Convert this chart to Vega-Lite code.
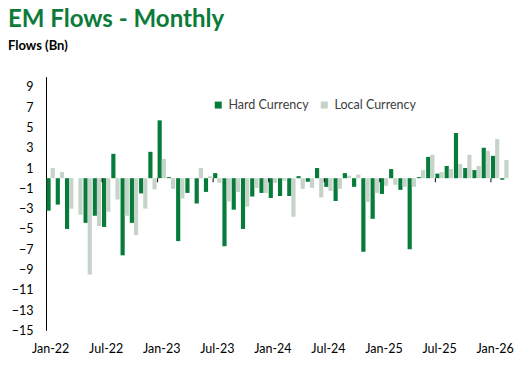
{
  "$schema": "https://vega.github.io/schema/vega-lite/v6.json",
  "width": 463,
  "height": 253.75,
  "autosize": {"type": "none"},
  "padding": {"left": 46, "top": 76.7, "right": 19, "bottom": 35.55},
  "background": "white",
  "title": {
    "text": "EM Flows - Monthly",
    "subtitle": "Flows (Bn)",
    "anchor": "start",
    "frame": "group",
    "dx": -38,
    "offset": 24,
    "font": "Lato",
    "fontSize": 24,
    "fontWeight": "bold",
    "color": "#0B7B3A",
    "subtitleFont": "Lato",
    "subtitleFontSize": 13,
    "subtitleFontWeight": "bold",
    "subtitleColor": "#000000",
    "subtitlePadding": 8
  },
  "config": {
    "view": {"stroke": null},
    "axis": {"grid": false, "labelFont": "Lato", "labelFontSize": 12.5, "labelColor": "#000000", "labelOverlap": false}
  },
  "data": {
    "values": [
      {"m": "Jan-22", "Hard Currency": -3.2, "Local Currency": 1.0},
      {"m": "Feb-22", "Hard Currency": -2.6, "Local Currency": 0.6},
      {"m": "Mar-22", "Hard Currency": -5.0, "Local Currency": -3.0},
      {"m": "Apr-22", "Hard Currency": 0.0, "Local Currency": -3.6},
      {"m": "May-22", "Hard Currency": -4.4, "Local Currency": -9.5},
      {"m": "Jun-22", "Hard Currency": -3.7, "Local Currency": -4.7},
      {"m": "Jul-22", "Hard Currency": -4.8, "Local Currency": -3.3},
      {"m": "Aug-22", "Hard Currency": 2.4, "Local Currency": -2.1},
      {"m": "Sep-22", "Hard Currency": -7.6, "Local Currency": -3.7},
      {"m": "Oct-22", "Hard Currency": -4.4, "Local Currency": -5.6},
      {"m": "Nov-22", "Hard Currency": -1.5, "Local Currency": -3.0},
      {"m": "Dec-22", "Hard Currency": 2.6, "Local Currency": -1.1},
      {"m": "Jan-23", "Hard Currency": 5.7, "Local Currency": 1.9},
      {"m": "Feb-23", "Hard Currency": 0.1, "Local Currency": -1.05},
      {"m": "Mar-23", "Hard Currency": -6.2, "Local Currency": -2.0},
      {"m": "Apr-23", "Hard Currency": -1.45, "Local Currency": -0.05},
      {"m": "May-23", "Hard Currency": -2.5, "Local Currency": 1.0},
      {"m": "Jun-23", "Hard Currency": -1.35, "Local Currency": 0.2},
      {"m": "Jul-23", "Hard Currency": 0.5, "Local Currency": -0.45},
      {"m": "Aug-23", "Hard Currency": -6.7, "Local Currency": -2.3},
      {"m": "Sep-23", "Hard Currency": -3.1, "Local Currency": -1.35},
      {"m": "Oct-23", "Hard Currency": -5.0, "Local Currency": -2.8},
      {"m": "Nov-23", "Hard Currency": -1.8, "Local Currency": -0.95},
      {"m": "Dec-23", "Hard Currency": -1.45, "Local Currency": -1.45},
      {"m": "Jan-24", "Hard Currency": -1.95, "Local Currency": -0.45},
      {"m": "Feb-24", "Hard Currency": -1.75, "Local Currency": -0.25},
      {"m": "Mar-24", "Hard Currency": -1.75, "Local Currency": -3.8},
      {"m": "Apr-24", "Hard Currency": 0.2, "Local Currency": -1.05},
      {"m": "May-24", "Hard Currency": -0.35, "Local Currency": -0.95},
      {"m": "Jun-24", "Hard Currency": 1.0, "Local Currency": -1.9},
      {"m": "Jul-24", "Hard Currency": -0.85, "Local Currency": -1.25},
      {"m": "Aug-24", "Hard Currency": -2.25, "Local Currency": -1.05},
      {"m": "Sep-24", "Hard Currency": 0.5, "Local Currency": 0.25},
      {"m": "Oct-24", "Hard Currency": -0.85, "Local Currency": 0.35},
      {"m": "Nov-24", "Hard Currency": -7.25, "Local Currency": -2.35},
      {"m": "Dec-24", "Hard Currency": -4.0, "Local Currency": -1.45},
      {"m": "Jan-25", "Hard Currency": -1.55, "Local Currency": -0.75},
      {"m": "Feb-25", "Hard Currency": 0.9, "Local Currency": -0.65},
      {"m": "Mar-25", "Hard Currency": -1.15, "Local Currency": -0.85},
      {"m": "Apr-25", "Hard Currency": -7.0, "Local Currency": -0.85},
      {"m": "May-25", "Hard Currency": 0.1, "Local Currency": 0.8},
      {"m": "Jun-25", "Hard Currency": 2.1, "Local Currency": 2.3},
      {"m": "Jul-25", "Hard Currency": 0.45, "Local Currency": 0.6},
      {"m": "Aug-25", "Hard Currency": 1.2, "Local Currency": 0.9},
      {"m": "Sep-25", "Hard Currency": 4.45, "Local Currency": 1.4},
      {"m": "Oct-25", "Hard Currency": 1.0, "Local Currency": 2.3},
      {"m": "Nov-25", "Hard Currency": 0.8, "Local Currency": 1.2},
      {"m": "Dec-25", "Hard Currency": 3.0, "Local Currency": 2.7},
      {"m": "Jan-26", "Hard Currency": 2.2, "Local Currency": 3.85},
      {"m": "Feb-26", "Hard Currency": -0.15, "Local Currency": 1.8}
    ]
  },
  "encoding": {
    "x": {
      "field": "m",
      "type": "ordinal",
      "sort": null,
      "scale": {"paddingInner": 0.1, "paddingOuter": 0.05},
      "axis": {
        "title": null,
        "domain": false,
        "ticks": false,
        "labelAngle": 0,
        "labelPadding": 12,
        "labelOverlap": false,
        "values": ["Jan-22", "Jul-22", "Jan-23", "Jul-23", "Jan-24", "Jul-24", "Jan-25", "Jul-25", "Jan-26"]
      }
    }
  },
  "layer": [
    {
      "transform": [{"fold": ["Hard Currency", "Local Currency"], "as": ["series", "v"]}],
      "mark": {"type": "bar"},
      "encoding": {
        "xOffset": {"field": "series", "type": "nominal", "sort": ["Hard Currency", "Local Currency"]},
        "y": {
          "field": "v",
          "type": "quantitative",
          "scale": {"domain": [-15, 10], "nice": false, "zero": false},
          "axis": {
            "title": null,
            "domain": true,
            "domainColor": "#000000",
            "domainWidth": 1,
            "ticks": false,
            "labelPadding": 13,
            "labelOverlap": false,
            "labelBound": false,
            "tickCount": 13,
            "values": [-15, -13, -11, -9, -7, -5, -3, -1, 1, 3, 5, 7, 9]
          }
        },
        "color": {
          "field": "series",
          "type": "nominal",
          "scale": {"domain": ["Hard Currency", "Local Currency"], "range": ["#067B3A", "#C5D3C8"]},
          "legend": {
            "title": null,
            "orient": "none",
            "direction": "horizontal",
            "legendX": 166,
            "legendY": 22,
            "symbolType": "square",
            "symbolSize": 49,
            "symbolStrokeWidth": 0,
            "labelFont": "Lato",
            "labelFontSize": 12.5,
            "labelColor": "#404040",
            "labelOffset": 4,
            "columnPadding": 9
          }
        }
      }
    },
    {
      "transform": [{"filter": {"field": "m", "oneOf": ["Jul-22", "Jan-23", "Jul-23", "Jan-24", "Jul-24", "Jan-25", "Jul-25", "Jan-26"]}}],
      "mark": {"type": "rule", "color": "#000000", "strokeWidth": 1},
      "encoding": {
        "x": {"field": "m", "type": "ordinal", "sort": null, "bandPosition": 0},
        "y": {"datum": 0},
        "y2": {"datum": -0.4}
      }
    },
    {
      "mark": {"type": "rule", "color": "#000000", "strokeWidth": 1.5},
      "encoding": {"y": {"datum": 0}}
    }
  ]
}
